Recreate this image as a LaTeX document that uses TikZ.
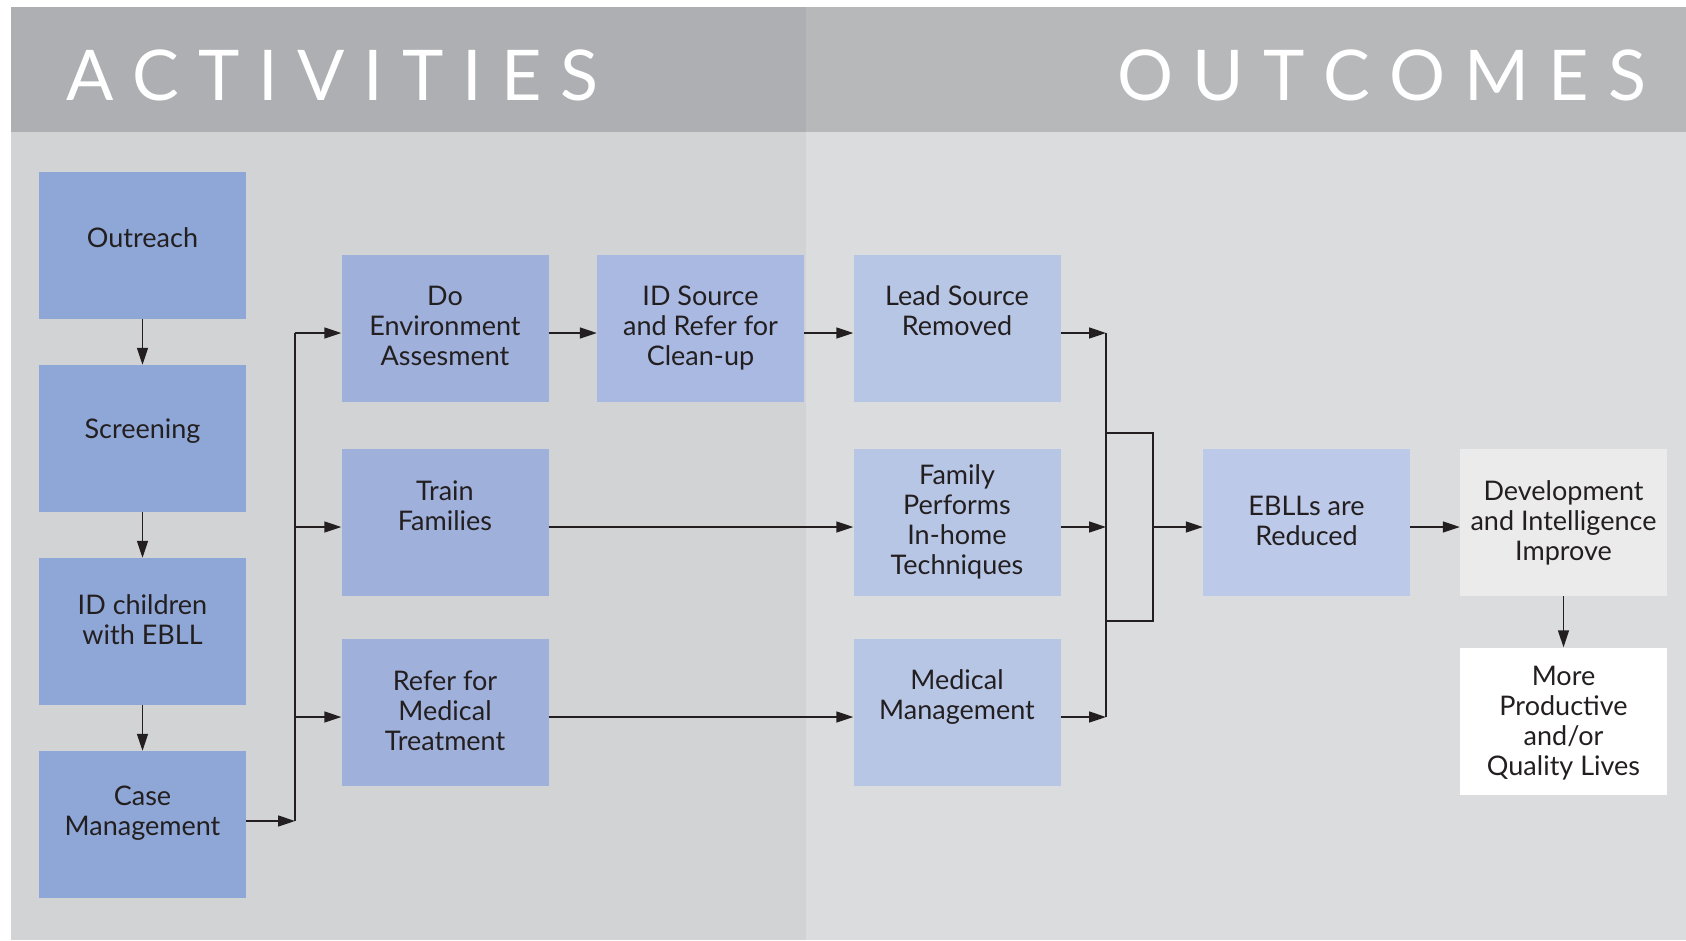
\documentclass[tikz,border=0pt]{standalone}
\usepackage{fontspec}
\setmainfont{Lato}
\usetikzlibrary{arrows.meta}
\definecolor{hdrL}{HTML}{AEAFB2}
\definecolor{hdrR}{HTML}{B7B8BA}
\definecolor{panL}{HTML}{D2D3D5}
\definecolor{panR}{HTML}{DBDCDE}
\definecolor{colA}{HTML}{8FA7D6}
\definecolor{colB}{HTML}{9FB0DB}
\definecolor{colC}{HTML}{A9B9E1}
\definecolor{colD}{HTML}{B8C6E6}
\definecolor{colE}{HTML}{BDC9E8}
\definecolor{colF}{HTML}{EBEBEB}
\definecolor{linec}{HTML}{231F20}
\newcommand\hdrgap{\kern19pt}
\begin{document}
\begin{tikzpicture}[x=1pt,y=-1pt,
  box/.style={rectangle, inner sep=0pt, minimum width=207pt, minimum height=147pt, draw=none},
  txt/.style={align=center, inner sep=0pt, text=linec, font=\fontsize{27}{30}\selectfont},
  hdr/.style={inner sep=0pt, text=white, font=\fontsize{70}{80}\selectfont},
  arr/.style={draw=linec, line width=1.5pt, -{Triangle[length=17pt,width=11pt]}},
  conn/.style={draw=linec, line width=1.5pt}]
\useasboundingbox (0,0) rectangle (1686,940);
\fill[white] (0,0) rectangle (1686,940);
\fill[hdrL] (11,7) rectangle (806,132);
\fill[hdrR] (806,7) rectangle (1686,132);
\fill[panL] (11,132) rectangle (806,940);
\fill[panR] (806,132) rectangle (1686,940);

\node[hdr, anchor=base west] (hact) at (66,100) {A\hdrgap C\hdrgap T\hdrgap I\hdrgap V\hdrgap I\hdrgap T\hdrgap I\hdrgap E\hdrgap S};
\node[hdr, anchor=base east] (hout) at (1646,100) {O\hdrgap U\hdrgap T\hdrgap C\hdrgap O\hdrgap M\hdrgap E\hdrgap S};

% boxes
\node[box, fill=colA] (out) at (142.5,245) {};
\node[box, fill=colA] (scr) at (142.5,438.5) {};
\node[box, fill=colA] (idc) at (142.5,631.5) {};
\node[box, fill=colA] (cm) at (142.5,824.5) {};
\node[box, fill=colB] (env) at (445,328.5) {};
\node[box, fill=colB] (trn) at (445,522.5) {};
\node[box, fill=colB] (ref) at (445,712.5) {};
\node[box, fill=colC] (ids) at (700.5,328.5) {};
\node[box, fill=colD] (lead) at (957,328.5) {};
\node[box, fill=colD] (fam) at (957,522.5) {};
\node[box, fill=colD] (med) at (957,712.5) {};
\node[box, fill=colE] (ebl) at (1306.5,522.5) {};
\node[box, fill=colF] (dev) at (1563.5,522.5) {};
\node[box, fill=white] (more) at (1563.5,721) {};

% texts
\node[txt] (tout) at (142.5,238) {Outreach};
\node[txt] (tscr) at (142.5,431) {Screening};
\node[txt] (tidc) at (142.5,620) {ID children\\with EBLL};
\node[txt] (tcm) at (142.5,813) {Case\\Management};
\node[txt] (tenv) at (445,326) {Do\\Environment\\Assesment};
\node[txt] (tids) at (700.5,328) {ID Source\\and Refer for\\Clean-up};
\node[txt] (ttrn) at (445,506) {Train\\Families};
\node[txt] (tref) at (445,711) {Refer for\\Medical\\Treatment};
\node[txt] (tlead) at (957,311) {Lead Source\\Removed};
\node[txt] (tfam) at (957,522) {Family\\Performs\\In-home\\Techniques};
\node[txt] (tmed) at (957,697) {Medical\\Management};
\node[txt] (tebl) at (1306.5,521) {EBLLs are\\Reduced};
\node[txt] (tdev) at (1563.5,523) {Development\\and Intelligence\\Improve};
\node[txt] (tmore) at (1563.5,723) {More\\Productive\\and/or\\Quality Lives};

% bus coordinates
\coordinate (busA) at (295,333);
\coordinate (busB) at (1106,333);
\coordinate (brk) at (1153,433);

% left column arrows
\draw[arr] (out) -- (scr);
\draw[arr] (scr) -- (idc);
\draw[arr] (idc) -- (cm);

% case management bus
\draw[arr] ([yshift=3.5pt]cm.east) -- ([yshift=3.5pt]cm.east -| busA);
\draw[conn] (busA) -- ([yshift=3.5pt]cm.east -| busA);
\draw[arr] (busA) -- (busA -| env.west);
\draw[arr] ([yshift=-4.5pt]trn.west -| busA) -- ([yshift=-4.5pt]trn.west);
\draw[arr] ([yshift=-4.5pt]ref.west -| busA) -- ([yshift=-4.5pt]ref.west);

% middle arrows
\draw[arr] (busA -| env.east) -- (busA -| ids.west);
\draw[arr] (busA -| ids.east) -- (busA -| lead.west);
\draw[arr] ([yshift=-4.5pt]trn.east) -- ([yshift=-4.5pt]fam.west);
\draw[arr] ([yshift=-4.5pt]ref.east) -- ([yshift=-4.5pt]med.west);

% outcome bus
\draw[arr] (busB -| lead.east) -- (busB);
\draw[arr] ([yshift=-4.5pt]fam.east) -- ([yshift=-4.5pt]fam.east -| busB);
\draw[arr] ([yshift=-4.5pt]med.east) -- ([yshift=-4.5pt]med.east -| busB);
\draw[conn] (busB) -- ([yshift=-4.5pt]med.east -| busB);
\draw[conn] (brk -| busB) -- (brk) -- (1153,621) -- (1106,621);
\draw[arr] (brk |- 0,527) -- (ebl.west |- 0,527);
\draw[arr] (ebl.east |- 0,527) -- (dev.west |- 0,527);
\draw[arr] (dev.south) -- (more.north);
\end{tikzpicture}
\end{document}
